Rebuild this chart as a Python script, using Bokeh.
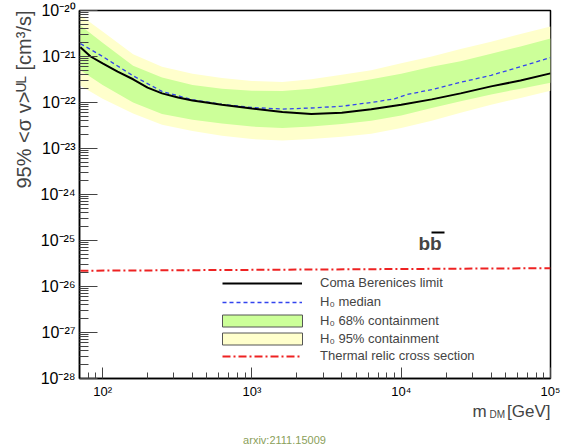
from bokeh.plotting import figure
from bokeh.models import (FixedTicker, CustomJSTickFormatter, Legend, LegendItem,
                          Label, BoxAnnotation, Title)
from bokeh.embed import file_html
from bokeh.resources import INLINE

# ---- data ----
band_mass = [71, 100, 160, 250, 400, 630, 1000, 1600, 2500, 4000, 6300,
             10000, 16000, 25000, 40000, 63000, 100000]
yellow_hi = [7.9e-21, 3.5e-21, 1.12e-21, 6.0e-22, 4.2e-22, 3.4e-22, 2.95e-22, 2.8e-22,
             3.2e-22, 4.0e-22, 5.0e-22, 7.1e-22, 1.0e-21, 1.45e-21, 2.1e-21, 3.1e-21, 4.5e-21]
green_hi = [4.7e-21, 2.0e-21, 6.3e-22, 3.5e-22, 2.4e-22, 2.0e-22, 1.8e-22, 1.78e-22,
            2.0e-22, 2.5e-22, 3.2e-22, 4.2e-22, 6.0e-22, 7.9e-22, 1.15e-21, 1.66e-21, 2.45e-21]
green_lo = [5.0e-22, 2.4e-22, 1.0e-22, 5.6e-23, 4.2e-23, 3.5e-23, 3.0e-23, 2.8e-23,
            3.0e-23, 3.4e-23, 4.0e-23, 5.2e-23, 7.6e-23, 1.07e-22, 1.5e-22, 2.0e-22, 2.7e-22]
yellow_lo = [2.3e-22, 1.2e-22, 5.8e-23, 3.3e-23, 2.4e-23, 1.9e-23, 1.6e-23, 1.5e-23,
             1.6e-23, 1.8e-23, 2.1e-23, 2.8e-23, 4.0e-23, 6.0e-23, 8.9e-23, 1.26e-22, 1.8e-22]

median_mass = [71, 100, 160, 250, 400, 630, 1000, 1600, 2500, 4000, 6300, 9000,
               11000, 16000, 25000, 40000, 63000, 100000]
median_val = [1.9e-21, 1.0e-21, 3.8e-22, 1.74e-22, 1.15e-22, 9.1e-23, 7.8e-23, 7.2e-23,
              7.6e-23, 8.3e-23, 1.0e-22, 1.2e-22, 1.5e-22, 1.9e-22, 2.75e-22, 3.9e-22,
              6.0e-22, 9.5e-22]

limit_mass = [71, 83, 100, 126, 160, 200, 250, 320, 400, 630, 1000, 1600, 2500, 4000,
              6300, 10000, 16000, 25000, 40000, 63000, 100000]
limit_val = [1.58e-21, 1.0e-21, 7.1e-22, 4.7e-22, 3.2e-22, 2.1e-22, 1.58e-22, 1.29e-22,
             1.10e-22, 8.9e-23, 7.4e-23, 6.2e-23, 5.6e-23, 6.0e-23, 7.1e-23, 8.9e-23,
             1.17e-22, 1.58e-22, 2.24e-22, 3.0e-22, 4.3e-22]

thermal_mass = [71, 1000, 10000, 100000]
thermal_val = [2.2e-26, 2.3e-26, 2.4e-26, 2.5e-26]

legend_labels = ["Coma Berenices limit", "H\u2080 median", "H\u2080 68% containment",
                 "H\u2080 95% containment", "Thermal relic cross section"]

FONT = "Liberation Sans"
GREEN = "#ccff99"
YELLOW = "#ffffcc"

p = figure(width=569, height=444, x_axis_type="log", y_axis_type="log",
           x_range=(70, 1e5), y_range=(1e-28, 1e-20),
           output_backend="svg", toolbar_location=None,
           min_border_left=79, min_border_right=19, min_border_top=10, min_border_bottom=66)
p.xgrid.visible = False
p.ygrid.visible = False
p.outline_line_color = "black"
p.outline_line_width = 1.5
p.background_fill_color = "white"
p.border_fill_color = "white"

# ticks
x_major = [10.0 ** e for e in range(2, 6)]
x_minor = [k * 10.0 ** e for e in range(1, 5) for k in range(2, 10) if 70 <= k * 10.0 ** e <= 1e5]
y_major = [10.0 ** e for e in range(-28, -19)]
y_minor = [k * 10.0 ** e for e in range(-28, -20) for k in range(2, 10)]
p.xaxis.ticker = FixedTicker(ticks=x_major, minor_ticks=x_minor)
p.yaxis.ticker = FixedTicker(ticks=y_major, minor_ticks=y_minor)

fmt_code = """
const e = Math.round(Math.log10(tick));
const sup = {"-":"\u207b","0":"\u2070","1":"\u00b9","2":"\u00b2","3":"\u00b3","4":"\u2074",
             "5":"\u2075","6":"\u2076","7":"\u2077","8":"\u2078","9":"\u2079"};
return "10" + String(e).split("").map(c => sup[c]).join("");
"""
p.xaxis.formatter = CustomJSTickFormatter(code=fmt_code)
p.yaxis.formatter = CustomJSTickFormatter(code=fmt_code)

for ax in (p.xaxis, p.yaxis):
    ax.axis_line_color = "black"
    ax.axis_line_width = 1.5
    ax.major_tick_line_color = "#444444"
    ax.minor_tick_line_color = "#444444"
    ax.major_tick_out = 0
    ax.minor_tick_out = 0
    ax.major_label_text_font = FONT
    ax.major_label_text_color = "black"

p.yaxis.major_tick_in = 18
p.yaxis.minor_tick_in = 9
p.yaxis.major_label_text_font_size = "16px"
p.yaxis.major_label_standoff = 4
p.xaxis.major_tick_in = 11
p.xaxis.minor_tick_in = 6
p.xaxis.major_label_text_font_size = "13px"
p.xaxis.major_label_standoff = 5

# bands and lines
p.varea(x=band_mass, y1=yellow_lo, y2=yellow_hi, fill_color=YELLOW)
p.varea(x=band_mass, y1=green_lo, y2=green_hi, fill_color=GREEN)
r_med = p.line(median_mass, median_val, line_color="#3344ee", line_width=1.3, line_dash="4 3")
r_lim = p.line(limit_mass, limit_val, line_color="black", line_width=2)
r_th = p.line(thermal_mass, thermal_val, line_color="#ee2222", line_width=2, line_dash="8 3 2 3")

# legend proxies for outlined boxes (placed outside the visible ranges)
r_g = p.quad(left=[10], right=[20], top=[1e-30], bottom=[1e-31],
             fill_color=GREEN, line_color="#555555", line_width=1)
r_y = p.quad(left=[10], right=[20], top=[1e-30], bottom=[1e-31],
             fill_color=YELLOW, line_color="#555555", line_width=1)


def make_legend(items, loc, gw, gh, standoff, spacing):
    lg = Legend(items=items, location=loc, glyph_width=gw, glyph_height=gh,
                label_height=gh, label_standoff=standoff, spacing=spacing,
                padding=0, margin=0, border_line_alpha=0, background_fill_alpha=0,
                label_text_font=FONT, label_text_font_size="13px")
    p.add_layout(lg, "center")


make_legend([LegendItem(label=legend_labels[0], renderers=[r_lim]),
             LegendItem(label=legend_labels[1], renderers=[r_med])], (143, 69), 80, 14, 18, 4)
make_legend([LegendItem(label=legend_labels[2], renderers=[r_g]),
             LegendItem(label=legend_labels[3], renderers=[r_y])], (133, 32), 100, 15, 8, 3)
make_legend([LegendItem(label=legend_labels[4], renderers=[r_th])], (143, 15), 80, 14, 18, 4)

# y axis title (top aligned, as in ROOT)
p.add_layout(Title(text="95% <\u03c3 v>\u1d41\u1d38 [cm\u00b3/s]", align="right",
                   text_font=FONT, text_font_size="20px", text_font_style="normal",
                   standoff=6, offset=0), "left")

# x axis title (m with subscript DM) and watermark in the bottom panel
p.add_layout(Label(x=471, y=9, x_units="screen", y_units="screen",
                   text="m\u2003\u2009[GeV]",
                   text_font=FONT, text_font_size="17px", text_align="right",
                   text_baseline="alphabetic"), "below")
p.add_layout(Label(x=410, y=17, x_units="screen", y_units="screen", text="DM",
                   text_font=FONT, text_font_size="10px", text_align="left",
                   text_baseline="alphabetic"), "below")
p.add_layout(Label(x=205, y=4, x_units="screen", y_units="screen", text="arxiv:2111.15009",
                   text_font=FONT, text_font_size="11px", text_color="#8aa05a",
                   text_align="center", text_baseline="middle"), "below")

# channel label b b-bar
p.add_layout(Label(x=339, y=135, x_units="screen", y_units="screen", text="bb",
                   text_font=FONT, text_font_size="19px", text_font_style="bold",
                   text_align="left", text_baseline="middle"))
p.add_layout(BoxAnnotation(left=352, right=365, bottom=145, top=147,
                           left_units="screen", right_units="screen",
                           bottom_units="screen", top_units="screen",
                           fill_color="black", fill_alpha=1, line_alpha=0))

open("out.html", "w").write(file_html(p, INLINE))
